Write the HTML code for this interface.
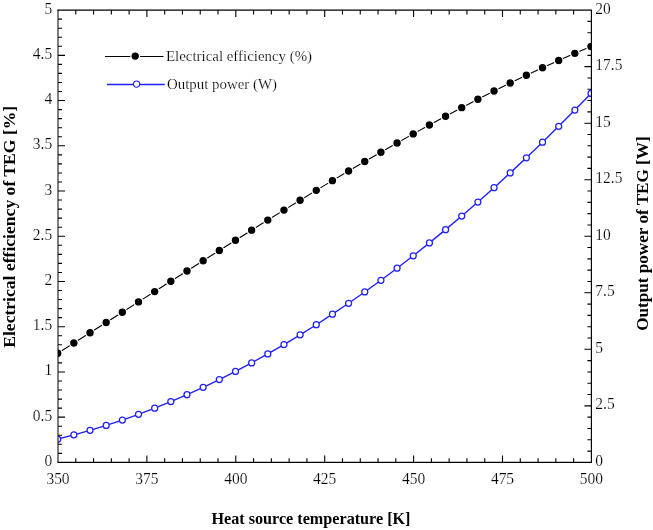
<!DOCTYPE html><html><head><meta charset="utf-8"><style>html,body{margin:0;padding:0;background:#fff;}svg{display:block;}text{font-family:"Liberation Serif",serif;}svg{will-change:transform;}.t{stroke:#fff;stroke-width:0.2px;}</style></head><body>
<svg width="653" height="530" viewBox="0 0 653 530">
<defs><clipPath id="c"><rect x="58" y="10.1" width="533.4" height="452.3"/></clipPath></defs>
<path d="M58 453.35h4M58 444.31h4M58 435.26h4M58 426.22h4M58 417.17h7M58 408.12h4M58 399.08h4M58 390.03h4M58 380.99h4M58 371.94h7M58 362.89h4M58 353.85h4M58 344.8h4M58 335.76h4M58 326.71h7M58 317.66h4M58 308.62h4M58 299.57h4M58 290.53h4M58 281.48h7M58 272.43h4M58 263.39h4M58 254.34h4M58 245.3h4M58 236.25h7M58 227.2h4M58 218.16h4M58 209.11h4M58 200.07h4M58 191.02h7M58 181.97h4M58 172.93h4M58 163.88h4M58 154.84h4M58 145.79h7M58 136.74h4M58 127.7h4M58 118.65h4M58 109.61h4M58 100.56h7M58 91.51h4M58 82.47h4M58 73.42h4M58 64.38h4M58 55.33h7M58 46.28h4M58 37.24h4M58 28.19h4M58 19.15h4M591.4 451.09h-4M591.4 439.78h-4M591.4 428.48h-4M591.4 417.17h-4M591.4 405.86h-7M591.4 394.55h-4M591.4 383.25h-4M591.4 371.94h-4M591.4 360.63h-4M591.4 349.32h-7M591.4 338.02h-4M591.4 326.71h-4M591.4 315.4h-4M591.4 304.1h-4M591.4 292.79h-7M591.4 281.48h-4M591.4 270.17h-4M591.4 258.87h-4M591.4 247.56h-4M591.4 236.25h-7M591.4 224.94h-4M591.4 213.64h-4M591.4 202.33h-4M591.4 191.02h-4M591.4 179.71h-7M591.4 168.4h-4M591.4 157.1h-4M591.4 145.79h-4M591.4 134.48h-4M591.4 123.18h-7M591.4 111.87h-4M591.4 100.56h-4M591.4 89.25h-4M591.4 77.94h-4M591.4 66.64h-7M591.4 55.33h-4M591.4 44.02h-4M591.4 32.72h-4M591.4 21.41h-4M75.78 462.4v-4.2M75.78 10.1v4.5M93.56 462.4v-4.2M93.56 10.1v4.5M111.34 462.4v-4.2M111.34 10.1v4.5M129.12 462.4v-4.2M129.12 10.1v4.5M146.9 462.4v-7M146.9 10.1v7M164.68 462.4v-4.2M164.68 10.1v4.5M182.46 462.4v-4.2M182.46 10.1v4.5M200.24 462.4v-4.2M200.24 10.1v4.5M218.02 462.4v-4.2M218.02 10.1v4.5M235.8 462.4v-7M235.8 10.1v7M253.58 462.4v-4.2M253.58 10.1v4.5M271.36 462.4v-4.2M271.36 10.1v4.5M289.14 462.4v-4.2M289.14 10.1v4.5M306.92 462.4v-4.2M306.92 10.1v4.5M324.7 462.4v-7M324.7 10.1v7M342.48 462.4v-4.2M342.48 10.1v4.5M360.26 462.4v-4.2M360.26 10.1v4.5M378.04 462.4v-4.2M378.04 10.1v4.5M395.82 462.4v-4.2M395.82 10.1v4.5M413.6 462.4v-7M413.6 10.1v7M431.38 462.4v-4.2M431.38 10.1v4.5M449.16 462.4v-4.2M449.16 10.1v4.5M466.94 462.4v-4.2M466.94 10.1v4.5M484.72 462.4v-4.2M484.72 10.1v4.5M502.5 462.4v-7M502.5 10.1v7M520.28 462.4v-4.2M520.28 10.1v4.5M538.06 462.4v-4.2M538.06 10.1v4.5M555.84 462.4v-4.2M555.84 10.1v4.5M573.62 462.4v-4.2M573.62 10.1v4.5" stroke="#000" stroke-width="1.1" fill="none"/>
<g clip-path="url(#c)">
<polyline points="57.7,353.24 73.86,343.03 90.02,332.78 106.18,322.5 122.34,312.2 138.5,301.89 154.66,291.58 170.82,281.27 186.98,270.98 203.15,260.71 219.31,250.48 235.47,240.29 251.63,230.16 267.79,220.09 283.95,210.1 300.11,200.18 316.27,190.36 332.43,180.64 348.59,171.03 364.75,161.54 380.91,152.18 397.07,142.96 413.23,133.88 429.39,124.97 445.55,116.22 461.72,107.64 477.88,99.25 494.04,91.06 510.2,83.07 526.36,75.3 542.52,67.75 558.68,60.43 574.84,53.35 591,46.53" stroke="#000" stroke-width="1.1" fill="none"/>
<circle cx="57.7" cy="353.24" r="4.3500000000000005" fill="#000" stroke="#fff" stroke-width="1.3"/>
<circle cx="73.86" cy="343.03" r="4.3500000000000005" fill="#000" stroke="#fff" stroke-width="1.3"/>
<circle cx="90.02" cy="332.78" r="4.3500000000000005" fill="#000" stroke="#fff" stroke-width="1.3"/>
<circle cx="106.18" cy="322.5" r="4.3500000000000005" fill="#000" stroke="#fff" stroke-width="1.3"/>
<circle cx="122.34" cy="312.2" r="4.3500000000000005" fill="#000" stroke="#fff" stroke-width="1.3"/>
<circle cx="138.5" cy="301.89" r="4.3500000000000005" fill="#000" stroke="#fff" stroke-width="1.3"/>
<circle cx="154.66" cy="291.58" r="4.3500000000000005" fill="#000" stroke="#fff" stroke-width="1.3"/>
<circle cx="170.82" cy="281.27" r="4.3500000000000005" fill="#000" stroke="#fff" stroke-width="1.3"/>
<circle cx="186.98" cy="270.98" r="4.3500000000000005" fill="#000" stroke="#fff" stroke-width="1.3"/>
<circle cx="203.15" cy="260.71" r="4.3500000000000005" fill="#000" stroke="#fff" stroke-width="1.3"/>
<circle cx="219.31" cy="250.48" r="4.3500000000000005" fill="#000" stroke="#fff" stroke-width="1.3"/>
<circle cx="235.47" cy="240.29" r="4.3500000000000005" fill="#000" stroke="#fff" stroke-width="1.3"/>
<circle cx="251.63" cy="230.16" r="4.3500000000000005" fill="#000" stroke="#fff" stroke-width="1.3"/>
<circle cx="267.79" cy="220.09" r="4.3500000000000005" fill="#000" stroke="#fff" stroke-width="1.3"/>
<circle cx="283.95" cy="210.1" r="4.3500000000000005" fill="#000" stroke="#fff" stroke-width="1.3"/>
<circle cx="300.11" cy="200.18" r="4.3500000000000005" fill="#000" stroke="#fff" stroke-width="1.3"/>
<circle cx="316.27" cy="190.36" r="4.3500000000000005" fill="#000" stroke="#fff" stroke-width="1.3"/>
<circle cx="332.43" cy="180.64" r="4.3500000000000005" fill="#000" stroke="#fff" stroke-width="1.3"/>
<circle cx="348.59" cy="171.03" r="4.3500000000000005" fill="#000" stroke="#fff" stroke-width="1.3"/>
<circle cx="364.75" cy="161.54" r="4.3500000000000005" fill="#000" stroke="#fff" stroke-width="1.3"/>
<circle cx="380.91" cy="152.18" r="4.3500000000000005" fill="#000" stroke="#fff" stroke-width="1.3"/>
<circle cx="397.07" cy="142.96" r="4.3500000000000005" fill="#000" stroke="#fff" stroke-width="1.3"/>
<circle cx="413.23" cy="133.88" r="4.3500000000000005" fill="#000" stroke="#fff" stroke-width="1.3"/>
<circle cx="429.39" cy="124.97" r="4.3500000000000005" fill="#000" stroke="#fff" stroke-width="1.3"/>
<circle cx="445.55" cy="116.22" r="4.3500000000000005" fill="#000" stroke="#fff" stroke-width="1.3"/>
<circle cx="461.72" cy="107.64" r="4.3500000000000005" fill="#000" stroke="#fff" stroke-width="1.3"/>
<circle cx="477.88" cy="99.25" r="4.3500000000000005" fill="#000" stroke="#fff" stroke-width="1.3"/>
<circle cx="494.04" cy="91.06" r="4.3500000000000005" fill="#000" stroke="#fff" stroke-width="1.3"/>
<circle cx="510.2" cy="83.07" r="4.3500000000000005" fill="#000" stroke="#fff" stroke-width="1.3"/>
<circle cx="526.36" cy="75.3" r="4.3500000000000005" fill="#000" stroke="#fff" stroke-width="1.3"/>
<circle cx="542.52" cy="67.75" r="4.3500000000000005" fill="#000" stroke="#fff" stroke-width="1.3"/>
<circle cx="558.68" cy="60.43" r="4.3500000000000005" fill="#000" stroke="#fff" stroke-width="1.3"/>
<circle cx="574.84" cy="53.35" r="4.3500000000000005" fill="#000" stroke="#fff" stroke-width="1.3"/>
<circle cx="591" cy="46.53" r="4.3500000000000005" fill="#000" stroke="#fff" stroke-width="1.3"/>
<polyline points="57.7,439.15 73.86,434.81 90.02,430.3 106.18,425.38 122.34,420.05 138.5,414.31 154.66,408.17 170.82,401.62 186.98,394.68 203.15,387.33 219.31,379.58 235.47,371.43 251.63,362.88 267.79,353.93 283.95,344.59 300.11,334.86 316.27,324.73 332.43,314.21 348.59,303.29 364.75,291.99 380.91,280.3 397.07,268.22 413.23,255.75 429.39,242.9 445.55,229.66 461.72,216.04 477.88,202.04 494.04,187.66 510.2,172.89 526.36,157.75 542.52,142.23 558.68,126.33 574.84,110.06 591,93.42" stroke="#2020ff" stroke-width="1.4" fill="none"/>
<circle cx="57.7" cy="439.15" r="3.0" fill="#fff" stroke="#2020ff" stroke-width="1.25"/>
<circle cx="73.86" cy="434.81" r="3.0" fill="#fff" stroke="#2020ff" stroke-width="1.25"/>
<circle cx="90.02" cy="430.3" r="3.0" fill="#fff" stroke="#2020ff" stroke-width="1.25"/>
<circle cx="106.18" cy="425.38" r="3.0" fill="#fff" stroke="#2020ff" stroke-width="1.25"/>
<circle cx="122.34" cy="420.05" r="3.0" fill="#fff" stroke="#2020ff" stroke-width="1.25"/>
<circle cx="138.5" cy="414.31" r="3.0" fill="#fff" stroke="#2020ff" stroke-width="1.25"/>
<circle cx="154.66" cy="408.17" r="3.0" fill="#fff" stroke="#2020ff" stroke-width="1.25"/>
<circle cx="170.82" cy="401.62" r="3.0" fill="#fff" stroke="#2020ff" stroke-width="1.25"/>
<circle cx="186.98" cy="394.68" r="3.0" fill="#fff" stroke="#2020ff" stroke-width="1.25"/>
<circle cx="203.15" cy="387.33" r="3.0" fill="#fff" stroke="#2020ff" stroke-width="1.25"/>
<circle cx="219.31" cy="379.58" r="3.0" fill="#fff" stroke="#2020ff" stroke-width="1.25"/>
<circle cx="235.47" cy="371.43" r="3.0" fill="#fff" stroke="#2020ff" stroke-width="1.25"/>
<circle cx="251.63" cy="362.88" r="3.0" fill="#fff" stroke="#2020ff" stroke-width="1.25"/>
<circle cx="267.79" cy="353.93" r="3.0" fill="#fff" stroke="#2020ff" stroke-width="1.25"/>
<circle cx="283.95" cy="344.59" r="3.0" fill="#fff" stroke="#2020ff" stroke-width="1.25"/>
<circle cx="300.11" cy="334.86" r="3.0" fill="#fff" stroke="#2020ff" stroke-width="1.25"/>
<circle cx="316.27" cy="324.73" r="3.0" fill="#fff" stroke="#2020ff" stroke-width="1.25"/>
<circle cx="332.43" cy="314.21" r="3.0" fill="#fff" stroke="#2020ff" stroke-width="1.25"/>
<circle cx="348.59" cy="303.29" r="3.0" fill="#fff" stroke="#2020ff" stroke-width="1.25"/>
<circle cx="364.75" cy="291.99" r="3.0" fill="#fff" stroke="#2020ff" stroke-width="1.25"/>
<circle cx="380.91" cy="280.3" r="3.0" fill="#fff" stroke="#2020ff" stroke-width="1.25"/>
<circle cx="397.07" cy="268.22" r="3.0" fill="#fff" stroke="#2020ff" stroke-width="1.25"/>
<circle cx="413.23" cy="255.75" r="3.0" fill="#fff" stroke="#2020ff" stroke-width="1.25"/>
<circle cx="429.39" cy="242.9" r="3.0" fill="#fff" stroke="#2020ff" stroke-width="1.25"/>
<circle cx="445.55" cy="229.66" r="3.0" fill="#fff" stroke="#2020ff" stroke-width="1.25"/>
<circle cx="461.72" cy="216.04" r="3.0" fill="#fff" stroke="#2020ff" stroke-width="1.25"/>
<circle cx="477.88" cy="202.04" r="3.0" fill="#fff" stroke="#2020ff" stroke-width="1.25"/>
<circle cx="494.04" cy="187.66" r="3.0" fill="#fff" stroke="#2020ff" stroke-width="1.25"/>
<circle cx="510.2" cy="172.89" r="3.0" fill="#fff" stroke="#2020ff" stroke-width="1.25"/>
<circle cx="526.36" cy="157.75" r="3.0" fill="#fff" stroke="#2020ff" stroke-width="1.25"/>
<circle cx="542.52" cy="142.23" r="3.0" fill="#fff" stroke="#2020ff" stroke-width="1.25"/>
<circle cx="558.68" cy="126.33" r="3.0" fill="#fff" stroke="#2020ff" stroke-width="1.25"/>
<circle cx="574.84" cy="110.06" r="3.0" fill="#fff" stroke="#2020ff" stroke-width="1.25"/>
<circle cx="591" cy="93.42" r="3.0" fill="#fff" stroke="#2020ff" stroke-width="1.25"/>
</g>
<path d="M58 9.6V462.9" stroke="#000" stroke-width="1.0" fill="none"/>
<path d="M591.4 9.6V462.9M57.5 10.1H591.9M57.5 462.4H591.9" stroke="#000" stroke-width="1.15" fill="none"/>
<path d="M105 56.5H163.5" stroke="#000" stroke-width="1.1"/>
<circle cx="135.2" cy="56.1" r="4.3500000000000005" fill="#000" stroke="#fff" stroke-width="1.3"/>
<path d="M106.9 84.5H164.8" stroke="#2020ff" stroke-width="1.3"/>
<circle cx="136.6" cy="84.1" r="3.1" fill="#fff" stroke="#2020ff" stroke-width="1.1"/>
<text x="166" y="60.6" class="t" font-size="14.9">Electrical efficiency (%)</text>
<text x="167" y="88.8" class="t" font-size="14.9">Output power (W)</text>
<text transform="translate(52.2 465.9) scale(0.88 1)" class="t" font-size="17.6" text-anchor="end">0</text>
<text transform="translate(52.2 420.67) scale(0.88 1)" class="t" font-size="17.6" text-anchor="end">0.5</text>
<text transform="translate(52.2 375.44) scale(0.88 1)" class="t" font-size="17.6" text-anchor="end">1</text>
<text transform="translate(52.2 330.21) scale(0.88 1)" class="t" font-size="17.6" text-anchor="end">1.5</text>
<text transform="translate(52.2 284.98) scale(0.88 1)" class="t" font-size="17.6" text-anchor="end">2</text>
<text transform="translate(52.2 239.75) scale(0.88 1)" class="t" font-size="17.6" text-anchor="end">2.5</text>
<text transform="translate(52.2 194.52) scale(0.88 1)" class="t" font-size="17.6" text-anchor="end">3</text>
<text transform="translate(52.2 149.29) scale(0.88 1)" class="t" font-size="17.6" text-anchor="end">3.5</text>
<text transform="translate(52.2 104.06) scale(0.88 1)" class="t" font-size="17.6" text-anchor="end">4</text>
<text transform="translate(52.2 58.83) scale(0.88 1)" class="t" font-size="17.6" text-anchor="end">4.5</text>
<text transform="translate(52.2 13.6) scale(0.88 1)" class="t" font-size="17.6" text-anchor="end">5</text>
<text transform="translate(595.3 465.9) scale(0.88 1)" class="t" font-size="17.6">0</text>
<text transform="translate(595.3 409.36) scale(0.88 1)" class="t" font-size="17.6">2.5</text>
<text transform="translate(595.3 352.82) scale(0.88 1)" class="t" font-size="17.6">5</text>
<text transform="translate(595.3 296.29) scale(0.88 1)" class="t" font-size="17.6">7.5</text>
<text transform="translate(595.3 239.75) scale(0.88 1)" class="t" font-size="17.6">10</text>
<text transform="translate(595.3 183.21) scale(0.88 1)" class="t" font-size="17.6">12.5</text>
<text transform="translate(595.3 126.68) scale(0.88 1)" class="t" font-size="17.6">15</text>
<text transform="translate(595.3 70.14) scale(0.88 1)" class="t" font-size="17.6">17.5</text>
<text transform="translate(595.3 13.6) scale(0.88 1)" class="t" font-size="17.6">20</text>
<text transform="translate(58 484.4) scale(0.88 1)" class="t" font-size="17.6" text-anchor="middle">350</text>
<text transform="translate(146.9 484.4) scale(0.88 1)" class="t" font-size="17.6" text-anchor="middle">375</text>
<text transform="translate(235.8 484.4) scale(0.88 1)" class="t" font-size="17.6" text-anchor="middle">400</text>
<text transform="translate(324.7 484.4) scale(0.88 1)" class="t" font-size="17.6" text-anchor="middle">425</text>
<text transform="translate(413.6 484.4) scale(0.88 1)" class="t" font-size="17.6" text-anchor="middle">450</text>
<text transform="translate(502.5 484.4) scale(0.88 1)" class="t" font-size="17.6" text-anchor="middle">475</text>
<text transform="translate(591.4 484.4) scale(0.88 1)" class="t" font-size="17.6" text-anchor="middle">500</text>
<text x="311" y="524" font-size="17.2" font-weight="bold" text-anchor="middle" textLength="199" lengthAdjust="spacingAndGlyphs">Heat source temperature [K]</text>
<text transform="translate(15.2 226.8) rotate(-90)" font-size="17.2" font-weight="bold" text-anchor="middle" textLength="242" lengthAdjust="spacingAndGlyphs">Electrical efficiency of TEG [%]</text>
<text transform="translate(647.8 233.6) rotate(-90)" font-size="17.2" font-weight="bold" text-anchor="middle" textLength="194.5" lengthAdjust="spacingAndGlyphs">Output power of TEG [W]</text>
</svg></body></html>
